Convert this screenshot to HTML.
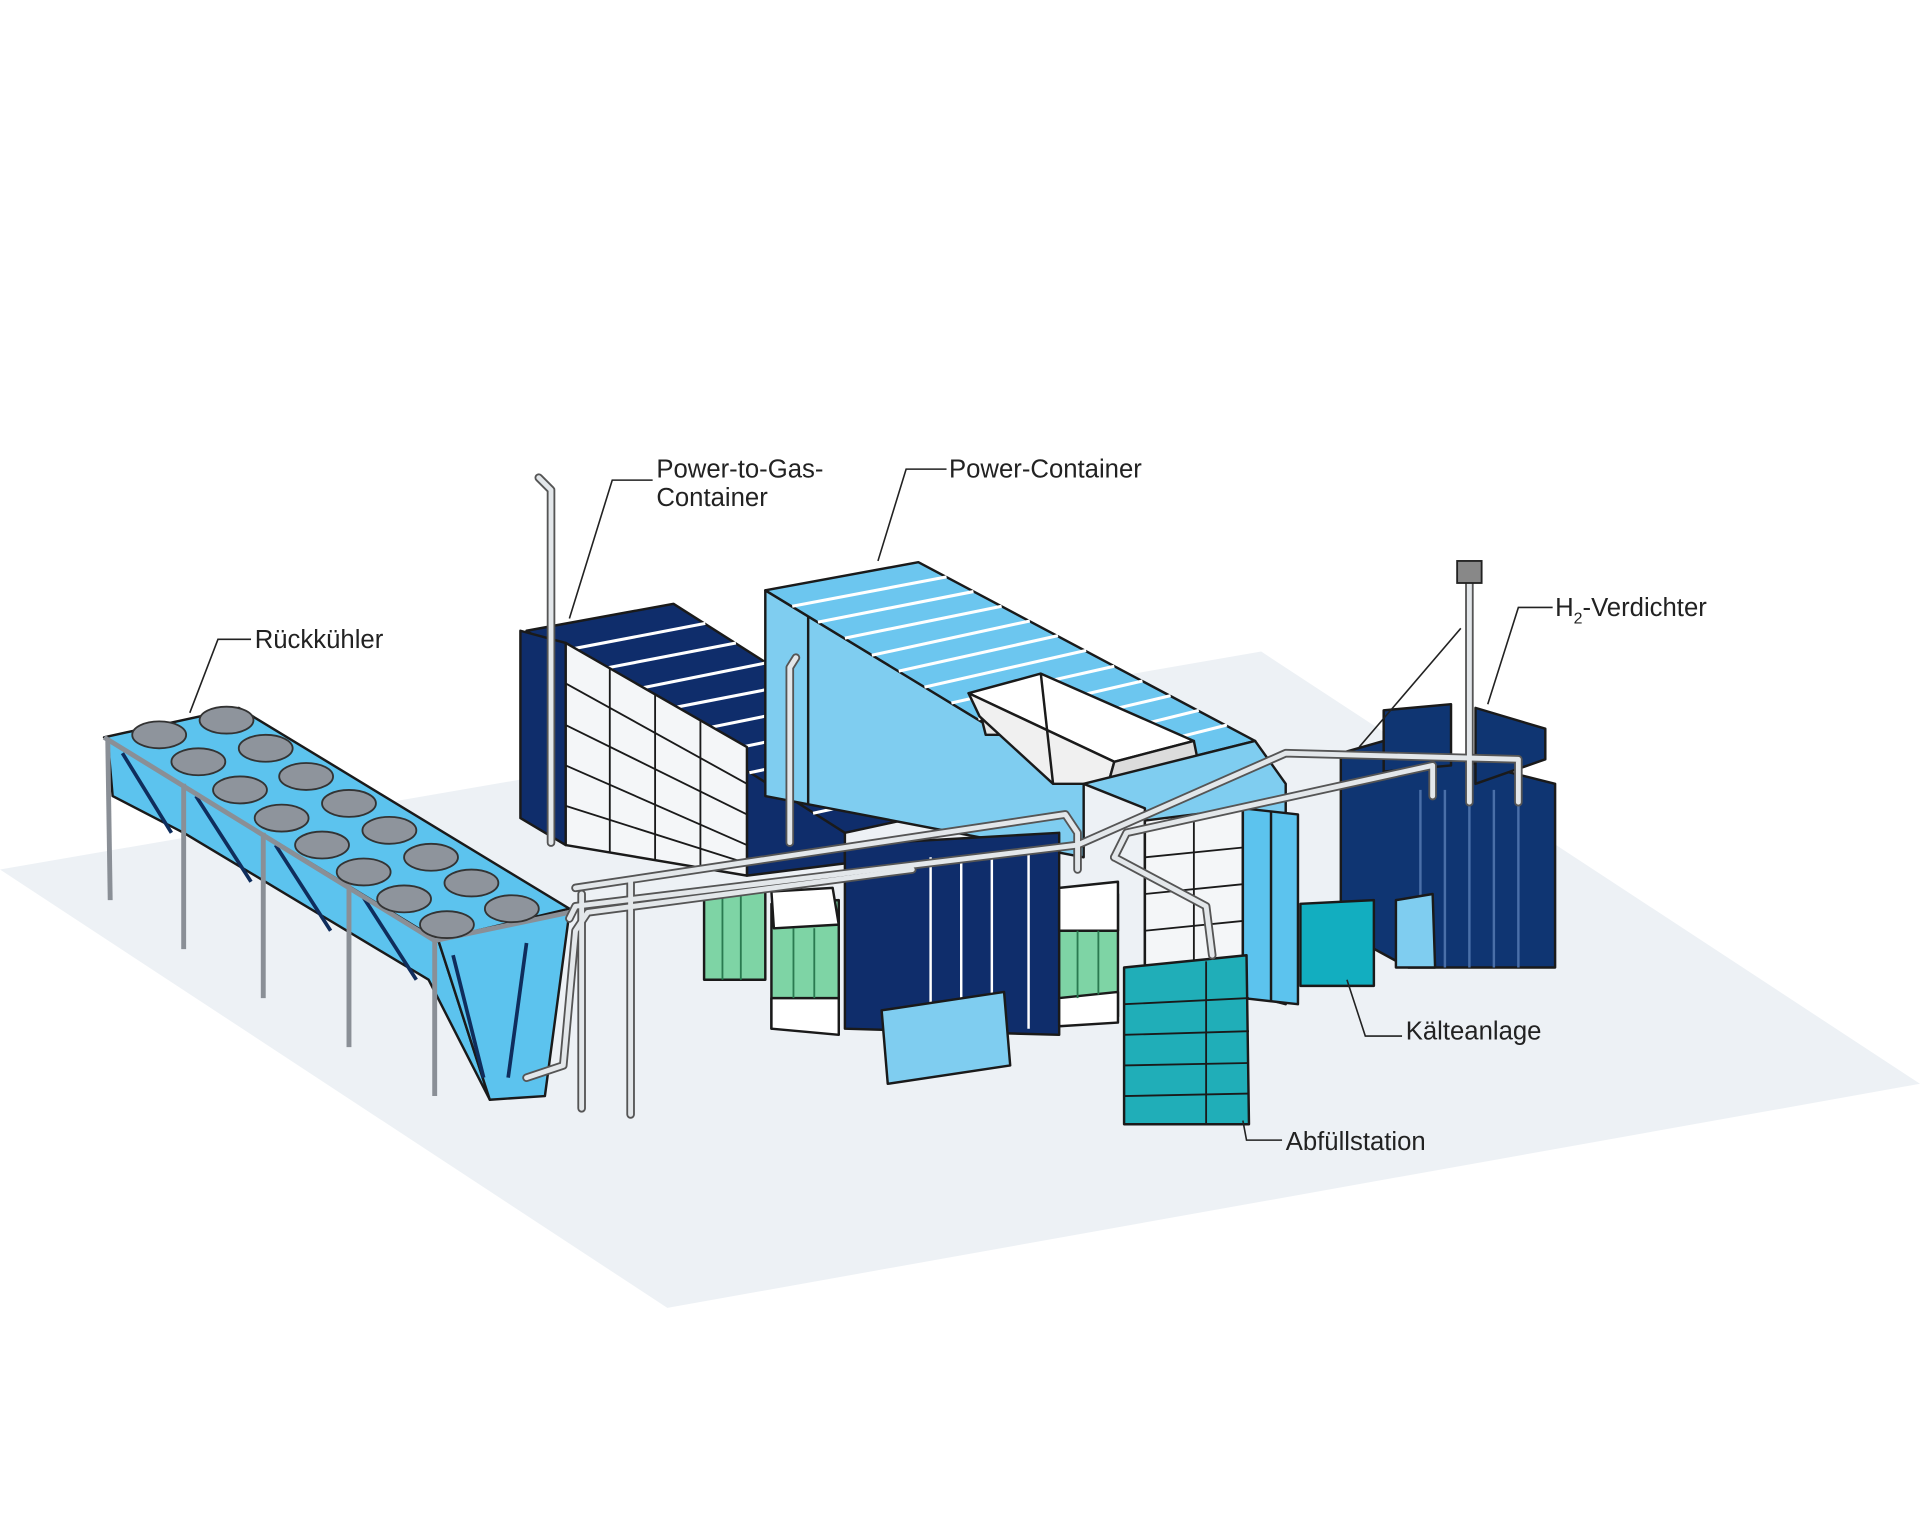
<!DOCTYPE html>
<html><head><meta charset="utf-8"><style>
html,body{margin:0;padding:0;background:#fff;}
svg{display:block}
text{font-family:"Liberation Sans",sans-serif;font-size:21px;fill:#222;}
</style></head><body>
<svg width="1920" height="1537" viewBox="0 0 1568 1255" xmlns="http://www.w3.org/2000/svg">
<rect width="1568" height="1255" fill="#fff"/>
<polygon points="0,710 1030,532 1568,885 545,1068" fill="#edf1f5"/>
<g stroke="#1a1a1a" stroke-width="2" stroke-linejoin="round">
<!-- Rückkühler -->
<polygon points="85,602 195,578 465,742 355,768" fill="#5cc3ee"/>
<polygon points="88,604 358,768 400,898 350,800 150,680 92,650" fill="#5cc3ee"/>
<polygon points="358,768 465,745 445,895 400,898" fill="#5cc3ee"/>
<g stroke="#0f2d5c" stroke-width="3">
<line x1="100" y1="615" x2="140" y2="680"/><line x1="160" y1="650" x2="205" y2="720"/>
<line x1="225" y1="690" x2="270" y2="760"/><line x1="295" y1="730" x2="340" y2="800"/>
<line x1="370" y1="780" x2="395" y2="880"/><line x1="430" y1="770" x2="415" y2="880"/>
</g>
<g fill="none" stroke="#8a8f96" stroke-width="4">
<polyline points="88,604 90,735"/><polyline points="150,640 150,775"/><polyline points="215,680 215,815"/>
<polyline points="285,720 285,855"/><polyline points="355,768 355,895"/>
<polyline points="85,602 355,768 465,745"/>
</g>
<g fill="#8e949c" stroke="#333" stroke-width="1.5">
<ellipse cx="130" cy="600" rx="22" ry="11"/><ellipse cx="185" cy="588" rx="22" ry="11"/>
<ellipse cx="162" cy="622" rx="22" ry="11"/><ellipse cx="217" cy="611" rx="22" ry="11"/>
<ellipse cx="196" cy="645" rx="22" ry="11"/><ellipse cx="250" cy="634" rx="22" ry="11"/>
<ellipse cx="230" cy="668" rx="22" ry="11"/><ellipse cx="285" cy="656" rx="22" ry="11"/>
<ellipse cx="263" cy="690" rx="22" ry="11"/><ellipse cx="318" cy="678" rx="22" ry="11"/>
<ellipse cx="297" cy="712" rx="22" ry="11"/><ellipse cx="352" cy="700" rx="22" ry="11"/>
<ellipse cx="330" cy="734" rx="22" ry="11"/><ellipse cx="385" cy="721" rx="22" ry="11"/>
<ellipse cx="365" cy="755" rx="22" ry="11"/><ellipse cx="418" cy="742" rx="22" ry="11"/>
</g>
<!-- P2G container -->
<polygon points="610,610 690,680 690,705 610,715" fill="#0f2d6b"/>
<polygon points="430,515 550,493 805,655 690,680" fill="#0f2d6b"/>
<g stroke="#fff" stroke-width="2.5">
<line x1="456" y1="532" x2="576" y2="509"/><line x1="482" y1="548" x2="601" y2="525"/>
<line x1="508" y1="565" x2="627" y2="541"/><line x1="534" y1="581" x2="652" y2="558"/>
<line x1="560" y1="598" x2="678" y2="574"/><line x1="586" y1="614" x2="703" y2="590"/>
<line x1="612" y1="631" x2="729" y2="606"/><line x1="638" y1="647" x2="754" y2="622"/>
<line x1="664" y1="664" x2="780" y2="639"/>
</g>
<polygon points="425,515 462,525 462,690 425,668" fill="#0f2d6b"/>
<polygon points="462,525 610,610 610,715 462,690" fill="#f4f6f8"/>
<g stroke="#1a1a1a" stroke-width="1.5">
<line x1="498" y1="546" x2="498" y2="696"/><line x1="535" y1="567" x2="535" y2="702"/><line x1="572" y1="588" x2="572" y2="709"/>
<line x1="462" y1="558" x2="610" y2="640"/><line x1="462" y1="592" x2="610" y2="665"/><line x1="462" y1="625" x2="610" y2="690"/><line x1="462" y1="658" x2="610" y2="705"/>
</g>
<!-- Power container -->
<polygon points="625,482 885,640 885,700 625,650" fill="#7fcdf0"/>
<line x1="660" y1="503" x2="660" y2="657"/>
<polygon points="625,482 750,459 1025,605 885,640" fill="#6cc6ef"/>
<g stroke="#fff" stroke-width="2.5">
<line x1="647" y1="495" x2="773" y2="471"/><line x1="668" y1="508" x2="795" y2="483"/><line x1="690" y1="521" x2="818" y2="495"/>
<line x1="712" y1="535" x2="841" y2="507"/><line x1="734" y1="548" x2="864" y2="519"/><line x1="755" y1="561" x2="887" y2="531"/>
<line x1="777" y1="574" x2="910" y2="544"/><line x1="799" y1="587" x2="933" y2="556"/><line x1="820" y1="600" x2="956" y2="568"/>
<line x1="842" y1="614" x2="979" y2="580"/><line x1="863" y1="627" x2="1002" y2="592"/>
</g>
<polygon points="800,580 850,560 850,600 805,600" fill="#e8e8e8"/>
<polygon points="791,566 850,550 975,605 910,622" fill="#fff"/>
<polygon points="791,566 910,622 905,640 860,640 800,585" fill="#f0f0f0"/>
<polygon points="910,622 975,605 978,620 905,640" fill="#dcdcdc"/>
<line x1="850" y1="550" x2="860" y2="640"/>
<polygon points="885,640 1025,605 1050,640 1050,820 935,790 935,660" fill="#7fcdf0"/>
<polygon points="935,670 1015,660 1015,790 935,790" fill="#f4f6f8"/>
<g stroke-width="1.5"><line x1="975" y1="665" x2="975" y2="790"/><line x1="935" y1="700" x2="1015" y2="692"/><line x1="935" y1="730" x2="1015" y2="722"/><line x1="935" y1="760" x2="1015" y2="752"/></g>
<polygon points="1015,660 1060,665 1060,820 1015,815" fill="#5cc3ee"/>
<line x1="1038" y1="662" x2="1038" y2="818"/>
<!-- lower navy block -->
<polygon points="690,690 865,680 865,845 690,840" fill="#0f2d6b"/>
<g stroke="#fff" stroke-width="2"><line x1="760" y1="700" x2="760" y2="835"/><line x1="785" y1="700" x2="785" y2="835"/><line x1="810" y1="698" x2="810" y2="838"/><line x1="840" y1="695" x2="840" y2="840"/></g>
<polygon points="720,825 820,810 825,870 725,885" fill="#7fcdf0"/>
<!-- green filters -->
<polygon points="575,725 625,722 625,800 575,800" fill="#7ed4a5"/>
<polygon points="630,738 685,735 685,840 630,840" fill="#7ed4a5"/>
<polygon points="630,728 680,725 685,755 632,758" fill="#fff"/>
<polygon points="630,815 685,815 685,845 630,840" fill="#fff"/>
<polygon points="865,735 913,730 913,830 865,835" fill="#7ed4a5"/>
<polygon points="865,725 913,720 913,760 865,760" fill="#fff"/>
<polygon points="865,815 913,810 913,835 865,838" fill="#fff"/>
<g stroke="#2a7a50" stroke-width="1.5"><line x1="590" y1="725" x2="590" y2="800"/><line x1="605" y1="725" x2="605" y2="800"/><line x1="648" y1="758" x2="648" y2="815"/><line x1="665" y1="758" x2="665" y2="815"/><line x1="880" y1="760" x2="880" y2="815"/><line x1="897" y1="760" x2="897" y2="812"/></g>
<!-- H2 verdichter -->
<polygon points="1095,615 1130,605 1270,640 1270,790 1150,790 1095,760" fill="#0f3572"/>
<polygon points="1130,580 1185,575 1185,625 1130,630" fill="#0f3572"/>
<polygon points="1205,578 1262,595 1262,620 1205,640" fill="#0f3572"/>
<g stroke="#4a6fa8" stroke-width="2"><line x1="1160" y1="645" x2="1160" y2="790"/><line x1="1180" y1="645" x2="1180" y2="790"/><line x1="1200" y1="645" x2="1200" y2="790"/><line x1="1220" y1="645" x2="1220" y2="790"/><line x1="1240" y1="645" x2="1240" y2="790"/></g>
<polygon points="1062,738 1122,735 1122,805 1062,805" fill="#12aec0"/>
<polygon points="1140,735 1170,730 1172,790 1140,790" fill="#7fcdf0"/>
<!-- Abfüllstation -->
<polygon points="918,790 1018,780 1020,918 918,918" fill="#20aeb8"/>
<g stroke-width="1.5"><line x1="985" y1="785" x2="985" y2="918"/><line x1="918" y1="820" x2="1020" y2="815"/><line x1="918" y1="845" x2="1020" y2="842"/><line x1="918" y1="870" x2="1020" y2="868"/><line x1="918" y1="895" x2="1020" y2="893"/></g>
</g>
<!-- pipes -->
<g fill="none" stroke="#555" stroke-width="7" stroke-linecap="round" stroke-linejoin="round">
<polyline points="475,730 475,905"/><polyline points="515,720 515,910"/>
<polyline points="470,725 870,665 880,680 880,710"/>
<polyline points="465,750 470,740 880,690"/>
<polyline points="430,880 460,870 470,760 480,745 745,710"/>
<polyline points="880,690 1050,615 1240,620 1240,655"/>
<polyline points="910,700 920,680 1170,625 1170,650"/>
<polyline points="910,700 985,740 990,780"/>
<polyline points="450,688 450,400 440,390"/><polyline points="645,688 645,545 650,537"/>
<polyline points="1200,655 1200,470"/>
</g>
<g fill="none" stroke="#e3e7ea" stroke-width="4" stroke-linecap="round" stroke-linejoin="round">
<polyline points="475,730 475,905"/><polyline points="515,720 515,910"/>
<polyline points="470,725 870,665 880,680 880,710"/>
<polyline points="465,750 470,740 880,690"/>
<polyline points="430,880 460,870 470,760 480,745 745,710"/>
<polyline points="880,690 1050,615 1240,620 1240,655"/>
<polyline points="910,700 920,680 1170,625 1170,650"/>
<polyline points="910,700 985,740 990,780"/>
<polyline points="450,688 450,400 440,390"/><polyline points="645,688 645,545 650,537"/>
<polyline points="1200,655 1200,470"/>
</g>
<rect x="1190" y="458" width="20" height="18" fill="#888" stroke="#222" stroke-width="1.5"/>
<!-- leaders -->
<g fill="none" stroke="#222" stroke-width="1.3">
<polyline points="205,522 178,522 155,582"/>
<polyline points="533,392 500,392 465,505"/>
<polyline points="773,383 740,383 717,458"/>
<polyline points="1268,496 1240,496 1215,575"/>
<polyline points="1193,513 1110,610"/>
<polyline points="1145,846 1115,846 1100,800"/>
<polyline points="1047,931 1018,931 1015,915"/>
</g>
<text x="208" y="529">Rückkühler</text>
<text x="536" y="390">Power-to-Gas-</text>
<text x="536" y="413">Container</text>
<text x="775" y="390">Power-Container</text>
<text x="1270" y="503">H<tspan font-size="13" dy="6">2</tspan><tspan dy="-6">-Verdichter</tspan></text>
<text x="1148" y="849">Kälteanlage</text>
<text x="1050" y="939">Abfüllstation</text>
</svg>
</body></html>
